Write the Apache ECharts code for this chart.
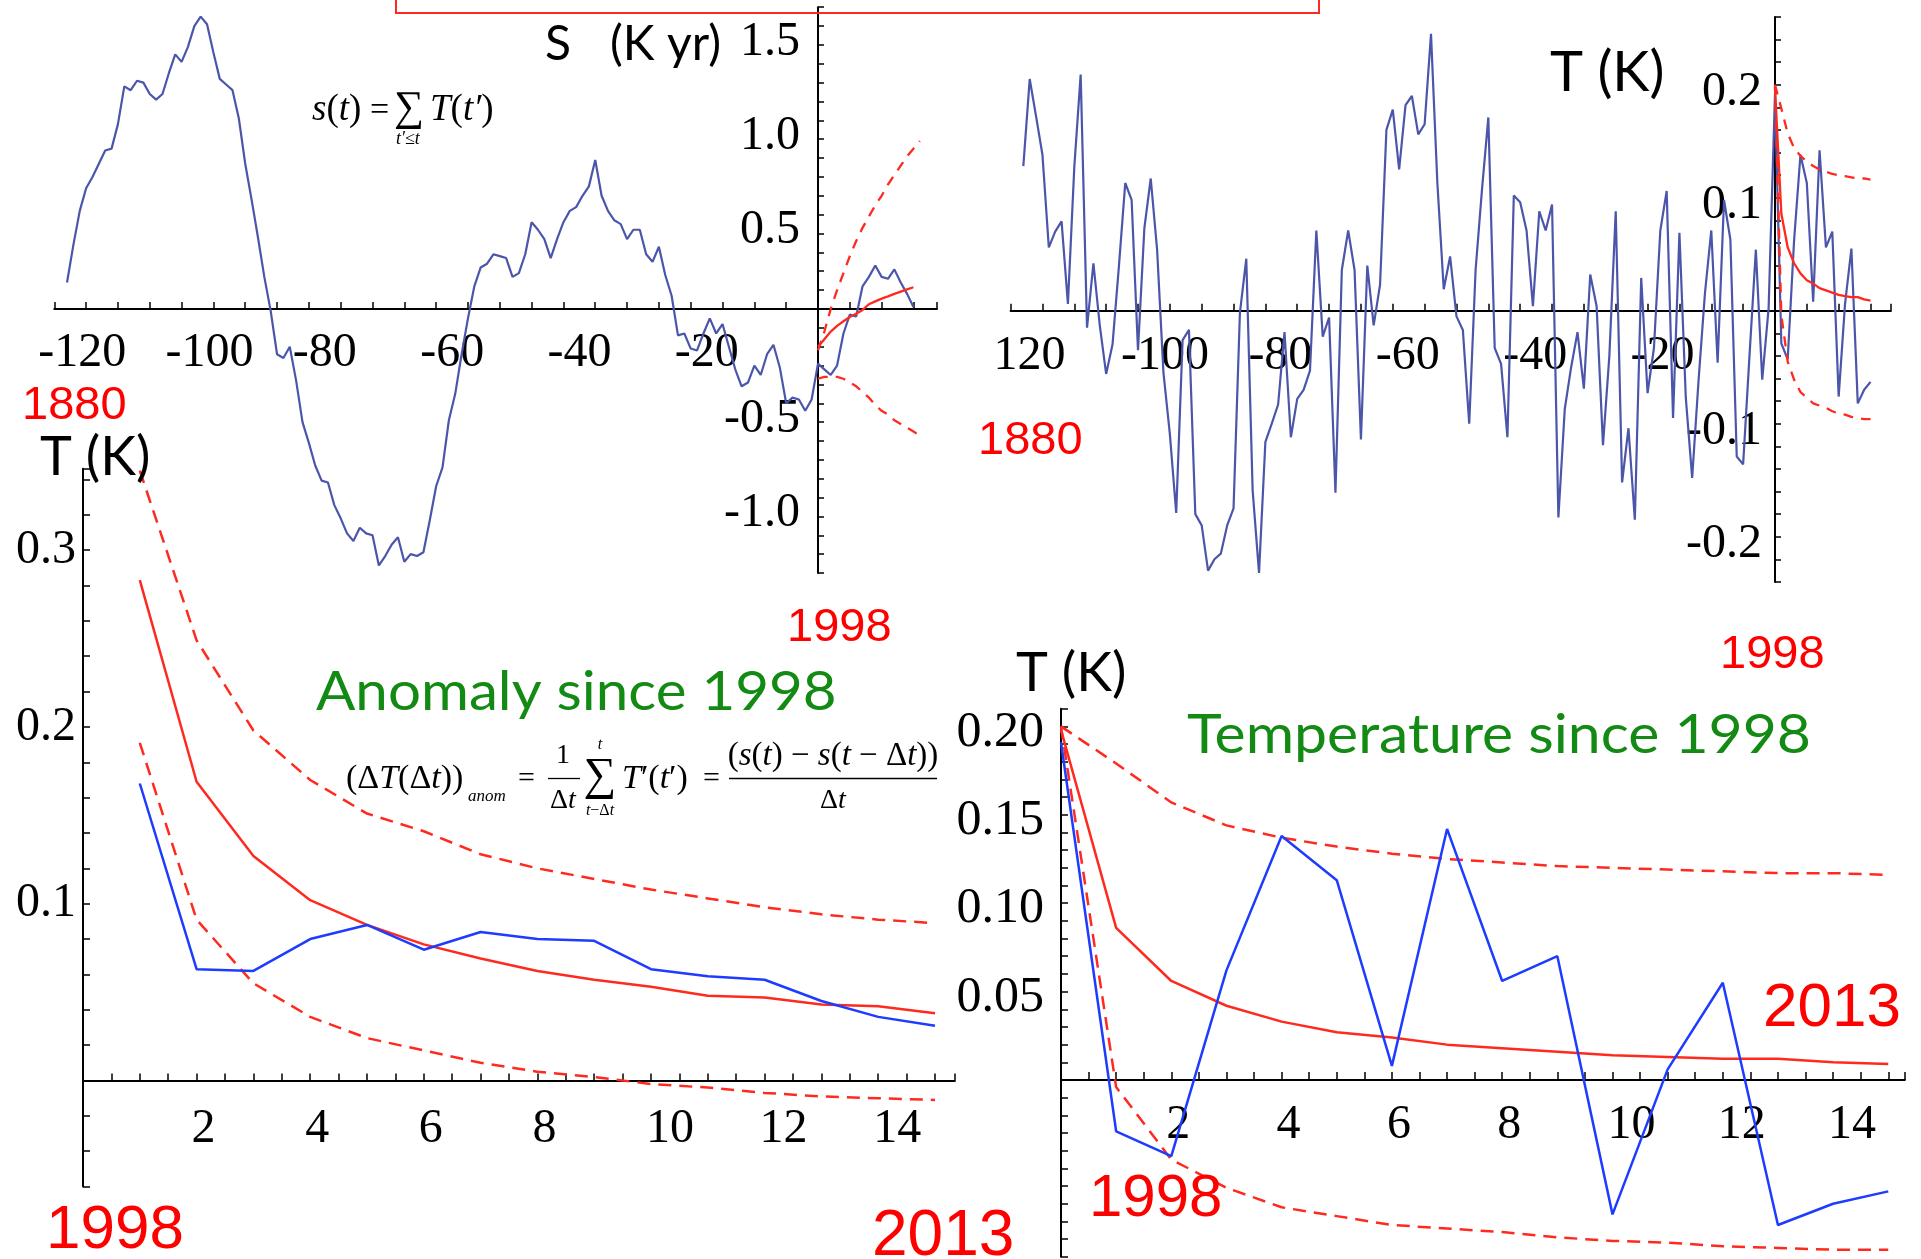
<!DOCTYPE html>
<html><head><meta charset="utf-8">
<script src="https://cdn.jsdelivr.net/npm/echarts@6/dist/echarts.min.js"></script>
<style>html,body{margin:0;padding:0;background:#fff;}#c{width:1921px;height:1259px;}</style>
</head><body><div id="c"></div>
<script>
// ---------------- DATA ----------------
const firstYear = 1880;
const baseYear = 1998;
// s(t): cumulative temperature (K yr), 1880..2013
const cumulativeS = [0.14, 0.34, 0.52, 0.64, 0.70, 0.77, 0.84, 0.85, 0.98, 1.18,
 1.16, 1.21, 1.20, 1.14, 1.11, 1.14, 1.25, 1.35, 1.31, 1.39,
 1.50, 1.55, 1.51, 1.36, 1.22, 1.19, 1.16, 1.01, 0.77, 0.58,
 0.38, 0.17, -0.01, -0.24, -0.26, -0.20, -0.38, -0.60, -0.71, -0.83,
 -0.91, -0.92, -1.04, -1.11, -1.19, -1.23, -1.16, -1.19, -1.20, -1.36,
 -1.31, -1.25, -1.21, -1.34, -1.30, -1.31, -1.29, -1.12, -0.94, -0.84,
 -0.59, -0.45, -0.24, -0.05, 0.12, 0.22, 0.24, 0.29, 0.28, 0.27,
 0.17, 0.19, 0.29, 0.46, 0.42, 0.37, 0.27, 0.37, 0.46, 0.52,
 0.54, 0.60, 0.65, 0.79, 0.60, 0.52, 0.47, 0.45, 0.37, 0.42,
 0.42, 0.29, 0.25, 0.33, 0.18, 0.07, -0.14, -0.13, -0.21, -0.22,
 -0.13, -0.05, -0.13, -0.08, -0.20, -0.32, -0.41, -0.39, -0.30, -0.35,
 -0.24, -0.19, -0.31, -0.50, -0.47, -0.48, -0.54, -0.48,
 -0.29, -0.32, -0.35, -0.30, -0.13, -0.03, -0.04, 0.12, 0.17, 0.23,
 0.17, 0.16, 0.21, 0.14, 0.08, 0.01];
// T(t): temperature (K), 1880..1997
const tempBefore1998 = [0.128, 0.205, 0.172, 0.138, 0.056, 0.070, 0.079, 0.006, 0.127, 0.209,
 -0.015, 0.042, -0.013, -0.056, -0.030, 0.039, 0.113, 0.098, -0.035, 0.073,
 0.117, 0.054, -0.055, -0.109, -0.179, -0.026, -0.017, -0.180, -0.190, -0.230,
 -0.220, -0.215, -0.190, -0.175, -0.002, 0.046, -0.159, -0.232, -0.116, -0.100,
 -0.083, -0.019, -0.112, -0.078, -0.070, -0.053, 0.071, -0.023, -0.006, -0.161,
 0.036, 0.071, 0.036, -0.114, 0.040, -0.013, 0.023, 0.160, 0.178, 0.125,
 0.182, 0.190, 0.156, 0.165, 0.245, 0.113, 0.019, 0.048, -0.005, -0.017,
 -0.100, 0.036, 0.107, 0.171, -0.033, -0.047, -0.112, 0.102, 0.096, 0.071,
 0.004, 0.088, 0.071, 0.094, -0.183, -0.087, -0.050, -0.019, -0.069, 0.032,
 0.004, -0.119, -0.040, 0.088, -0.152, -0.104, -0.185, 0.029, -0.073, -0.033,
 0.071, 0.106, -0.095, 0.069, -0.077, -0.148, -0.062, 0.015, 0.071, -0.046,
 0.098, 0.063, -0.129, -0.136, -0.040, 0.054, -0.061, 0.002];
// Temperature since 1998 (years after 1998 = 0..15)
const yearsSince = [0, 1, 2, 3, 4, 5, 6, 7, 8, 9, 10, 11, 12, 13, 14, 15];
const tempSince1998 = [0.191, -0.029, -0.043, 0.062, 0.138, 0.113, 0.008, 0.142, 0.056, 0.070, -0.076, 0.006, 0.055, -0.082, -0.070, -0.063];
const tempTrend = [0.198, 0.086, 0.056, 0.042, 0.033, 0.027, 0.024, 0.020, 0.018, 0.016, 0.014, 0.013, 0.012, 0.012, 0.010, 0.009];
const tempUpper = [0.200, 0.179, 0.157, 0.144, 0.137, 0.132, 0.128, 0.125, 0.123, 0.121, 0.120, 0.119, 0.118, 0.117, 0.117, 0.116];
const tempLower = [0.200, -0.004, -0.045, -0.061, -0.072, -0.077, -0.082, -0.084, -0.086, -0.089, -0.091, -0.092, -0.094, -0.095, -0.096, -0.096];
// Predicted s(t) after 1998
const predYears = [0, 1, 2, 3, 4, 5, 6, 7, 8, 9, 10, 11, 12, 13, 14, 15, 16];
const sTrend = [-0.20, -0.16, -0.12, -0.09, -0.065, -0.043, -0.025, -0.005, 0.025, 0.040, 0.055, 0.067, 0.080, 0.092, 0.104, 0.115];
const sUpper = [-0.22, -0.12, 0.00, 0.10, 0.19, 0.28, 0.36, 0.43, 0.49, 0.55, 0.60, 0.66, 0.71, 0.76, 0.81, 0.85, 0.89];
const sLower = [-0.37, -0.36, -0.36, -0.36, -0.37, -0.39, -0.41, -0.44, -0.47, -0.51, -0.54, -0.56, -0.59, -0.61, -0.63, -0.65, -0.67];
// Anomaly since 1998 vs Δt
const deltaT = [1, 2, 3, 4, 5, 6, 7, 8, 9, 10, 11, 12, 13, 14, 15];
const anomalyObs = [0.168, 0.063, 0.062, 0.080, 0.088, 0.074, 0.084, 0.080, 0.079, 0.063, 0.059, 0.057, 0.045, 0.036, 0.031];
const anomalyTrend = [0.283, 0.169, 0.127, 0.102, 0.088, 0.077, 0.069, 0.062, 0.057, 0.053, 0.048, 0.047, 0.043, 0.042, 0.038];
const anomalyUpper = [0.345, 0.249, 0.198, 0.170, 0.151, 0.141, 0.128, 0.120, 0.114, 0.108, 0.103, 0.098, 0.094, 0.091, 0.089];
const anomalyLower = [0.191, 0.091, 0.055, 0.036, 0.024, 0.017, 0.010, 0.005, 0.002, -0.002, -0.004, -0.007, -0.009, -0.010, -0.011];

// ---------------- STYLE ----------------
const SERIF = '"Liberation Serif", "Times New Roman", serif';
const SANS = 'Lato, "Open Sans", sans-serif';
const ARIAL = '"Liberation Sans", Arial, sans-serif';
const BLUE1 = '#4b56aa', BLUE2 = '#1e3cff', RED = '#ff2a1f', GREEN = '#138a13';

const relYearsS = cumulativeS.map((_, i) => firstYear + i - baseYear);
const tempAll = tempBefore1998.concat(tempSince1998);
const relYearsT = tempAll.map((_, i) => firstYear + i - baseYear);
const pairs = (xs, ys) => ys.map((v, i) => [xs[i], v]);

const fmtHist = (minusOnFirst) => v => {
  const k = Math.round(v);
  if (Math.abs(v - k) > 1e-6 || k >= 0 || k % 20 !== 0) return '';
  if (!minusOnFirst && k === -120) return '120';
  return String(k);
};
const fmtEven = v => {
  const k = Math.round(v);
  if (Math.abs(v - k) > 1e-6 || k <= 0 || k > 14 || k % 2 !== 0) return '';
  return String(k);
};

// grid geometry (px); axes are moved onto the zero lines with offsets
const G = [
  {left: 54.3, top: 7.2, width: 882.7, height: 565.8},
  {left: 1010.6, top: 16.9, width: 880.3, height: 565},
  {left: 83, top: 468.8, width: 871.9, height: 717.8},
  {left: 1061, top: 708.7, width: 843.8, height: 548.1}
];

function xAx(grid, min, max, interval, fmt, o) {
  return {type: 'value', gridIndex: grid, min, max, interval, position: 'bottom', offset: o.offset,
    axisLine: {onZero: false, lineStyle: {color: '#000', width: 2}},
    axisTick: {inside: true, length: o.tick, lineStyle: {color: '#000', width: 1.5}},
    axisLabel: {formatter: fmt, fontFamily: SERIF, fontSize: o.fs, color: '#000', margin: o.margin,
      align: 'left', padding: [0, 0, 0, o.shift]},
    splitLine: {show: false}};
}
function yAx(grid, min, max, interval, fmt, o) {
  const lab = {formatter: fmt, fontFamily: SERIF, fontSize: o.fs, color: '#000', margin: o.margin};
  if (o.lh) { lab.verticalAlign = 'top'; lab.lineHeight = o.lh; }
  return {type: 'value', gridIndex: grid, min, max, interval, position: 'left', offset: o.offset,
    axisLine: {onZero: false, lineStyle: {color: '#000', width: 2}},
    axisTick: {inside: true, length: o.tick, lineStyle: {color: '#000', width: 1.5}},
    axisLabel: lab,
    splitLine: {show: false}};
}
function line(xi, data, color, width, dash) {
  return {type: 'line', xAxisIndex: xi, yAxisIndex: xi, data, symbol: 'none', silent: true,
    lineStyle: {color, width, type: dash || 'solid'}, animation: false};
}
function txt(text, x, y, font, fill, sx) {
  return {type: 'text', x, y, scaleX: sx || 1, silent: true, z: 50,
    style: {text, font, fill: fill || '#000', textAlign: 'left', align: 'left',
      textVerticalAlign: 'middle', verticalAlign: 'middle'}};
}
function rtxt(text, x, y, size, align) {
  return {type: 'text', x, y, silent: true, z: 50,
    style: {text, fill: '#000', textAlign: align || 'left', align: align || 'left',
      textVerticalAlign: 'middle', verticalAlign: 'middle', font: size + 'px ' + SERIF,
      rich: {n: {font: size + 'px ' + SERIF, fill: '#000'}, i: {font: 'italic ' + size + 'px ' + SERIF, fill: '#000'}}}};
}
function hline(x1, x2, y) {
  return {type: 'line', silent: true, z: 50, shape: {x1, y1: y, x2, y2: y}, style: {stroke: '#000', lineWidth: 1.3}};
}

const chart = echarts.init(document.getElementById('c'), null, {renderer: 'canvas'});
const option = {
  animation: false,
  backgroundColor: '#fff',
  grid: G,
  xAxis: [
    xAx(0, -120, 18.7, 5, fmtHist(true), {tick: 7, fs: 48, margin: 20, shift: -16, offset: -264.0}),
    xAx(1, -120, 18.2, 5, fmtHist(false), {tick: 7, fs: 48, margin: 22, shift: -17, offset: -271.2}),
    xAx(2, 0, 15.35, 0.5, fmtEven, {tick: 7, fs: 48, margin: 25, shift: -5, offset: -106.1}),
    xAx(3, 0, 15.3, 0.5, fmtEven, {tick: 8, fs: 48, margin: 21, shift: -5, offset: -176.8})
  ],
  yAxis: [
    yAx(0, -1.4, 1.6, 0.1, v => { const k = Math.round(v * 10); return (k % 5 || !k) ? '' : (k / 10).toFixed(1); },
      {tick: 6, fs: 48, margin: 18, lh: 32, offset: -763.7}),
    yAx(1, -0.24, 0.26, 0.02, v => { const k = Math.round(v * 100); return (k % 10 || !k) ? '' : (k / 100).toFixed(1); },
      {tick: 6, fs: 48, margin: 13, lh: 16, offset: -764.4}),
    yAx(2, -0.06, 0.346, 0.02, v => { const k = Math.round(v * 100); return (k % 10 || k <= 0) ? '' : (k / 100).toFixed(1); },
      {tick: 7, fs: 48, margin: 7, offset: 0}),
    yAx(3, -0.10, 0.21, 0.01, v => { const k = Math.round(v * 100); return (k % 5 || k <= 0) ? '' : (k / 100).toFixed(2); },
      {tick: 7, fs: 50, margin: 17, lh: 12, offset: 0})
  ],
  series: [
    line(0, pairs(relYearsS, cumulativeS), BLUE1, 2.2),
    line(0, pairs(predYears, sTrend), RED, 2.3),
    line(0, pairs(predYears, sUpper), RED, 2.3, [10, 8]),
    line(0, pairs(predYears, sLower), RED, 2.3, [10, 8]),
    line(1, pairs(relYearsT, tempAll), BLUE1, 2.2),
    line(1, pairs(yearsSince, tempTrend), RED, 2.3),
    line(1, pairs(yearsSince, tempUpper), RED, 2.3, [10, 8]),
    line(1, pairs(yearsSince, tempLower), RED, 2.3, [10, 8]),
    line(2, pairs(deltaT, anomalyUpper), RED, 2.5, [13, 8]),
    line(2, pairs(deltaT, anomalyLower), RED, 2.5, [13, 8]),
    line(2, pairs(deltaT, anomalyTrend), RED, 2.5),
    line(2, pairs(deltaT, anomalyObs), BLUE2, 2.5),
    line(3, pairs(yearsSince, tempUpper), RED, 2.5, [13, 8]),
    line(3, pairs(yearsSince, tempLower), RED, 2.5, [13, 8]),
    line(3, pairs(yearsSince, tempTrend), RED, 2.5),
    line(3, pairs(yearsSince, tempSince1998), BLUE2, 2.5)
  ],
  graphic: [
    {type: 'rect', silent: true, z: 40, shape: {x: 396, y: -10, width: 923, height: 23}, style: {fill: 'none', stroke: RED, lineWidth: 2}},
    txt('S', 545, 45, '48px ' + SANS),
    txt('(K yr)', 610, 45, '48px ' + SANS),
    txt('T (K)', 1550, 73, '56px ' + SANS),
    txt('T (K)', 40, 458, '54px ' + SANS),
    txt('T (K)', 1016, 674, '54px ' + SANS),
    txt('1880', 22, 406, '47px ' + ARIAL, '#ff0000'),
    txt('1880', 978, 441, '47px ' + ARIAL, '#ff0000'),
    txt('1998', 787, 628, '47px ' + ARIAL, '#ff0000'),
    txt('1998', 1720, 655, '47px ' + ARIAL, '#ff0000'),
    txt('1998', 46, 1231, '62px ' + ARIAL, '#ff0000'),
    txt('2013', 872, 1237, '64px ' + ARIAL, '#ff0000'),
    txt('2013', 1763, 1009, '62px ' + ARIAL, '#ff0000'),
    txt('1998', 1089, 1199, '60px ' + ARIAL, '#ff0000'),
    txt('Anomaly since 1998', 316, 692, '55px ' + SANS, GREEN, 1.06),
    txt('Temperature since 1998', 1187, 736, '54px ' + SANS, GREEN, 1.09),
    // s(t) = sum T(t')
    rtxt('{i|s}{n|(}{i|t}{n|)}', 312, 110, 37),
    rtxt('{n|=}', 370, 111, 34),
    rtxt('{n|∑}', 394, 109, 42),
    rtxt('{i|T}{n|(}{i|t′}{n|)}', 430, 110, 37),
    rtxt('{i|t′≤t}', 396, 139, 18),
    // (ΔT(Δt))_anom = 1/Δt Σ T'(t') = (s(t) − s(t−Δt))/Δt
    rtxt('{n|(Δ}{i|T}{n|(Δ}{i|t}{n|))}', 346, 779, 34),
    rtxt('{i|anom}', 468, 797, 17),
    rtxt('{n|=}', 518, 779, 30),
    rtxt('{n|1}', 563, 756, 28, 'center'),
    hline(548, 580, 778.5),
    rtxt('{n|Δ}{i|t}', 563, 801, 28, 'center'),
    rtxt('{n|∑}', 600, 777, 46, 'center'),
    rtxt('{i|t}', 600, 745, 16, 'center'),
    rtxt('{i|t}{n|−Δ}{i|t}', 600, 811, 16, 'center'),
    rtxt('{i|T}{n|′(}{i|t}{n|′)}', 622, 779, 34),
    rtxt('{n|=}', 703, 779, 30),
    rtxt('{n|(}{i|s}{n|(}{i|t}{n|) − }{i|s}{n|(}{i|t}{n| − Δ}{i|t}{n|))}', 833, 756, 33, 'center'),
    hline(729, 937, 778.5),
    rtxt('{n|Δ}{i|t}', 833, 801, 28, 'center')
  ]
};
chart.setOption(option);
</script>
</body></html>
